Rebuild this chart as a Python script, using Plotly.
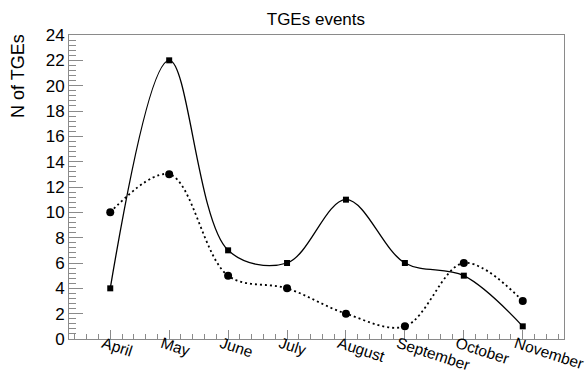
import plotly.graph_objects as go

months = ["April", "May", "June", "July", "August", "September", "October", "November"]
month_pos = [1, 2, 3, 4, 5, 6, 7, 8]
squares = [4, 22, 7, 6, 11, 6, 5, 1]
circles = [10, 13, 5, 4, 2, 1, 6, 3]
y_ticks = [0, 2, 4, 6, 8, 10, 12, 14, 16, 18, 20, 22, 24]

fig = go.Figure()
fig.add_trace(go.Scatter(
    x=month_pos, y=squares, mode="lines+markers",
    line=dict(color="black", width=1.3, shape="spline", smoothing=1.0),
    marker=dict(symbol="square", size=6, color="black"),
    showlegend=False))
fig.add_trace(go.Scatter(
    x=month_pos, y=circles, mode="lines+markers",
    line=dict(color="black", width=1.8, shape="spline", smoothing=1.0, dash="2px,3px"),
    marker=dict(symbol="circle", size=8, color="black"),
    showlegend=False))

font = "Liberation Sans, Arial, Helvetica, sans-serif"
axcol = "#8a8a8a"
fig.update_layout(
    width=585, height=373,
    margin=dict(l=69, r=21, t=35, b=34, autoexpand=False),
    paper_bgcolor="white", plot_bgcolor="white",
    font=dict(family=font, color="black"),
    title=dict(text="TGEs events", x=0.54, xanchor="center", y=0.948, yanchor="middle",
               font=dict(size=17, family=font, color="black")),
    xaxis=dict(range=[0.3, 8.7], tickvals=month_pos, ticktext=months, tickangle=18,
               automargin=False, ticklabelshift=-7, ticklabelstandoff=-11,
               ticklabeloverflow="allow",
               ticks="inside", ticklen=9, tickcolor=axcol, showgrid=False, zeroline=False,
               showline=True, linecolor=axcol, linewidth=1, mirror=True,
               tickfont=dict(size=15.5, family=font, color="black"),
               minor=dict(ticks="inside", ticklen=5, tickcolor=axcol, dtick=0.2, tick0=0, showgrid=False)),
    yaxis=dict(range=[0, 24], tickvals=y_ticks, automargin=False,
               ticks="inside", ticklen=14, tickcolor=axcol, showgrid=False, zeroline=False,
               showline=True, linecolor=axcol, linewidth=1, mirror=True,
               tickfont=dict(size=17, family=font, color="black"),
               minor=dict(ticks="inside", ticklen=7, tickcolor=axcol, dtick=0.4, tick0=0, showgrid=False)),
    annotations=[dict(text="N of TGEs", textangle=-90, xref="paper", yref="paper",
                      x=-0.103, y=1.01, xanchor="center", yanchor="top", showarrow=False,
                      font=dict(size=18, family=font, color="black"))],
)
fig.write_html("out.html")
